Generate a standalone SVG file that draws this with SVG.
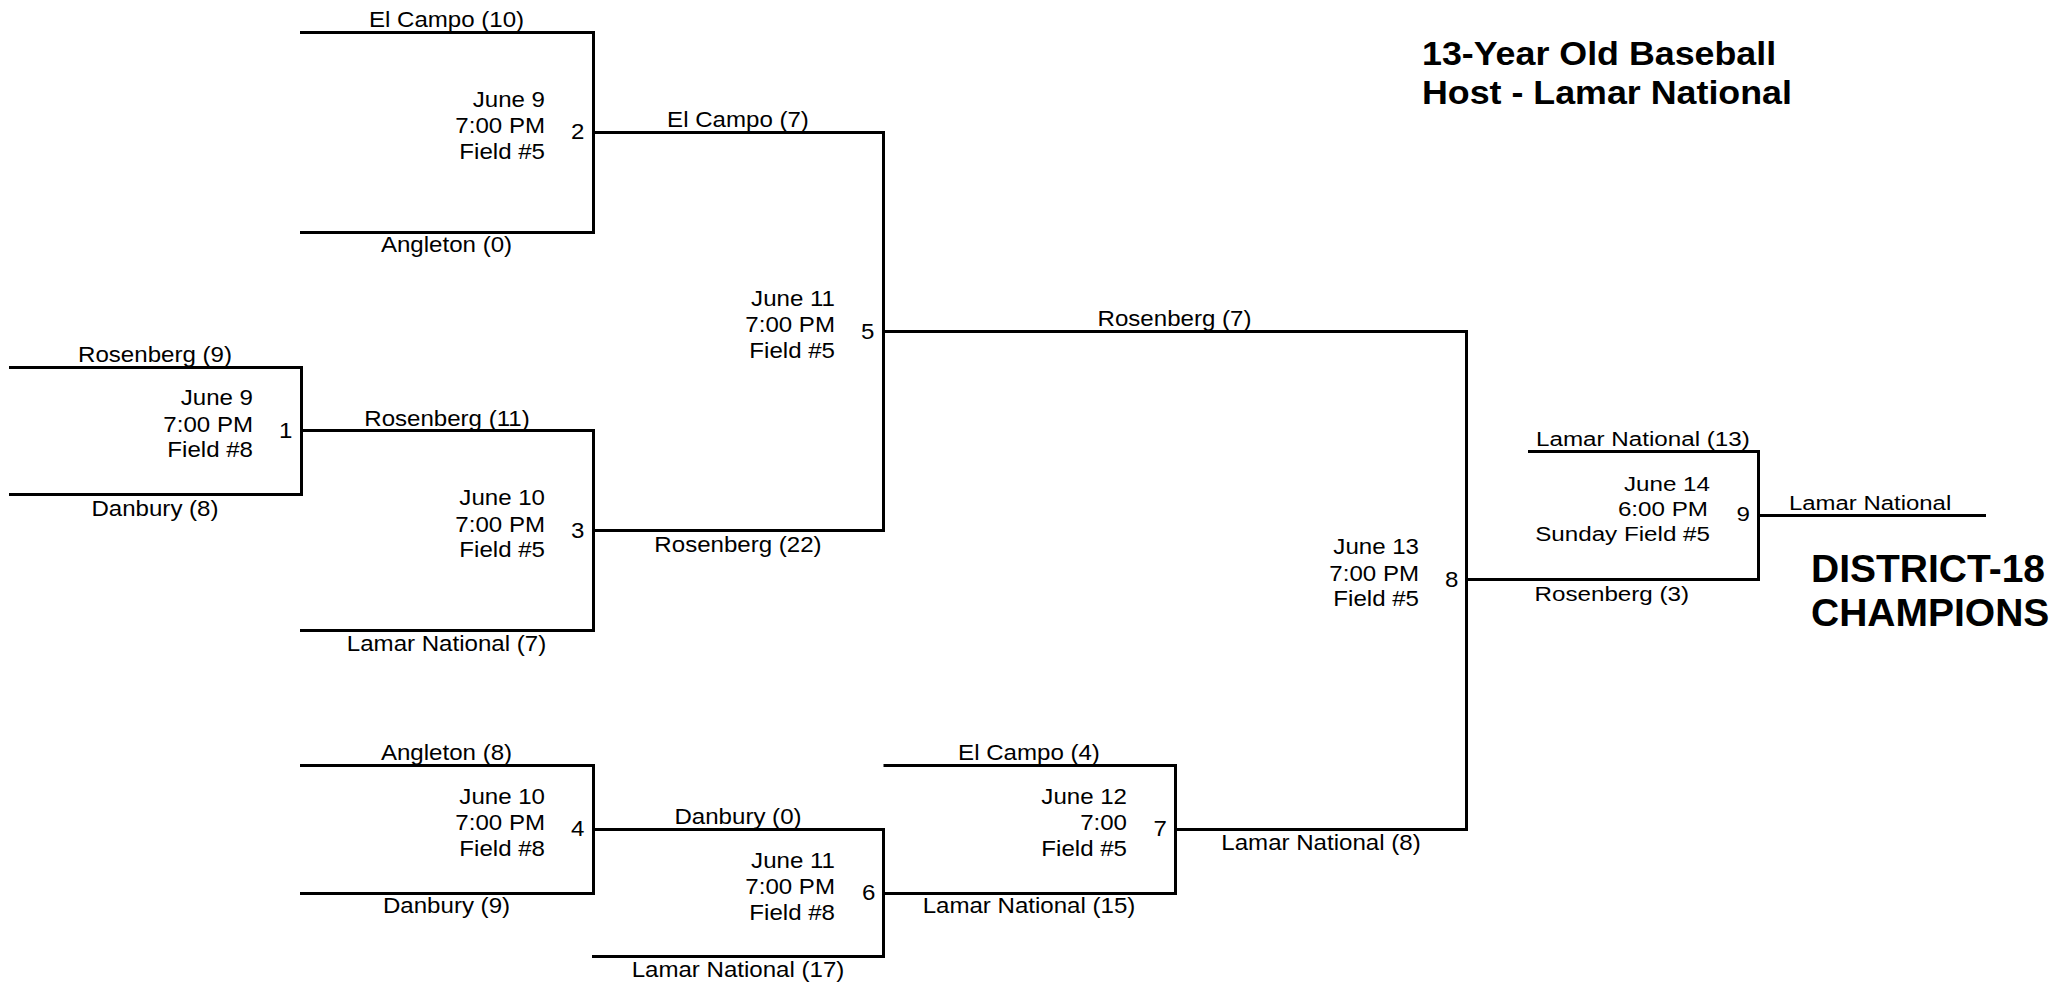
<svg xmlns="http://www.w3.org/2000/svg" width="2058" height="986" viewBox="0 0 2058 986">
<style>
text { font-family: "Liberation Sans", Arial, sans-serif; fill: #000; }
.lbl { font-size: 22px; text-anchor: middle; transform-box: fill-box; transform-origin: 50% 50%; transform: scaleX(1.095); }
.dt { font-size: 22px; text-anchor: end; transform-box: fill-box; transform-origin: 100% 50%; transform: scaleX(1.095); }
.g9s { font-size: 20px; text-anchor: start; transform-box: fill-box; transform-origin: 0% 50%; transform: scaleX(1.21); }
.g9e { font-size: 20px; text-anchor: end; transform-box: fill-box; transform-origin: 100% 50%; transform: scaleX(1.21); }
.win { font-size: 21px; text-anchor: start; transform-box: fill-box; transform-origin: 0% 50%; transform: scaleX(1.14); }
.title { font-size: 33px; font-weight: bold; transform-box: fill-box; transform-origin: 0% 50%; transform: scaleX(1.085); }
.champ { font-size: 39px; font-weight: bold; }
.ln { fill: none; stroke: #000; stroke-width: 3; stroke-linejoin: miter; stroke-linecap: butt; }
</style>
<rect width="2058" height="986" fill="#fff"/>
<g id="connectors">
  <path class="ln" d="M300,32.5 H593.5 V232.5 H300"/>
  <path class="ln" d="M9,367.5 H301.5 V494.5 H9"/>
  <path class="ln" d="M301.5,430.5 H593.5 V630.5 H300"/>
  <path class="ln" d="M300,765.5 H593.5 V893.5 H300"/>
  <path class="ln" d="M593.5,132.5 H883.5 V530.5 H593.5"/>
  <path class="ln" d="M593.5,829.5 H883.5 V956.5 H592"/>
  <path class="ln" d="M883.5,765.5 H1175.5 V893.5 H883.5"/>
  <path class="ln" d="M883.5,331.5 H1466.5 V829.5 H1175.5"/>
  <path class="ln" d="M1528,451.5 H1758.5 V579.5 H1466.5"/>
  <path class="ln" d="M1758.5,515.5 H1986"/>
</g>
<g id="title">
  <text class="title" x="1422" y="65">13-Year Old Baseball</text>
  <text class="title" x="1422" y="104">Host - Lamar National</text>
</g>
<g id="game1">
  <text class="lbl" x="155" y="362.5">Rosenberg (9)</text>
  <text class="lbl" x="155" y="516">Danbury (8)</text>
  <text class="dt" x="253" y="405.5">June 9</text>
  <text class="dt" x="253" y="432">7:00 PM</text>
  <text class="dt" x="253" y="457.5">Field #8</text>
  <text class="dt" x="292.5" y="438">1</text>
</g>
<g id="game2">
  <text class="lbl" x="446.5" y="27.5">El Campo (10)</text>
  <text class="lbl" x="446.5" y="252.5">Angleton (0)</text>
  <text class="dt" x="545" y="107">June 9</text>
  <text class="dt" x="545" y="133.5">7:00 PM</text>
  <text class="dt" x="545" y="159">Field #5</text>
  <text class="dt" x="584.5" y="139.5">2</text>
</g>
<g id="game3">
  <text class="lbl" x="447" y="426">Rosenberg (11)</text>
  <text class="lbl" x="446.5" y="651.5">Lamar National (7)</text>
  <text class="dt" x="545" y="505.5">June 10</text>
  <text class="dt" x="545" y="532">7:00 PM</text>
  <text class="dt" x="545" y="557.5">Field #5</text>
  <text class="dt" x="584.5" y="538">3</text>
</g>
<g id="game4">
  <text class="lbl" x="446.5" y="760.5">Angleton (8)</text>
  <text class="lbl" x="446.5" y="913.5">Danbury (9)</text>
  <text class="dt" x="545" y="804">June 10</text>
  <text class="dt" x="545" y="830.5">7:00 PM</text>
  <text class="dt" x="545" y="856">Field #8</text>
  <text class="dt" x="584.5" y="836.5">4</text>
</g>
<g id="game5">
  <text class="lbl" x="738" y="127">El Campo (7)</text>
  <text class="lbl" x="738" y="552">Rosenberg (22)</text>
  <text class="dt" x="835" y="306.5">June 11</text>
  <text class="dt" x="835" y="332.5">7:00 PM</text>
  <text class="dt" x="835" y="358.5">Field #5</text>
  <text class="dt" x="874.5" y="339">5</text>
</g>
<g id="game6">
  <text class="lbl" x="738" y="824.5">Danbury (0)</text>
  <text class="lbl" x="738" y="977.5">Lamar National (17)</text>
  <text class="dt" x="835" y="868">June 11</text>
  <text class="dt" x="835" y="894.5">7:00 PM</text>
  <text class="dt" x="835" y="920">Field #8</text>
  <text class="dt" x="875.5" y="900.5">6</text>
</g>
<g id="game7">
  <text class="lbl" x="1029" y="760.5">El Campo (4)</text>
  <text class="lbl" x="1029" y="913.5">Lamar National (15)</text>
  <text class="dt" x="1127" y="804">June 12</text>
  <text class="dt" x="1127" y="830.5">7:00</text>
  <text class="dt" x="1127" y="856">Field #5</text>
  <text class="dt" x="1167" y="836.5">7</text>
</g>
<g id="game8">
  <text class="lbl" x="1174.5" y="326.5">Rosenberg (7)</text>
  <text class="lbl" x="1321" y="850">Lamar National (8)</text>
  <text class="dt" x="1419" y="554.5">June 13</text>
  <text class="dt" x="1419" y="581">7:00 PM</text>
  <text class="dt" x="1419" y="606.5">Field #5</text>
  <text class="dt" x="1458.5" y="587">8</text>
</g>
<g id="game9">
  <text class="g9s" x="1536" y="446.5">Lamar National (13)</text>
  <text class="g9s" x="1534.5" y="601">Rosenberg (3)</text>
  <text class="g9e" x="1710" y="491">June 14</text>
  <text class="g9e" x="1708" y="516.5">6:00 PM</text>
  <text class="g9e" x="1710" y="541.5">Sunday Field #5</text>
  <text class="g9e" x="1750" y="521.5">9</text>
</g>
<g id="champion">
  <text class="win" x="1789" y="510.5">Lamar National</text>
  <text class="champ" x="1811" y="582">DISTRICT-18</text>
  <text class="champ" x="1811" y="626">CHAMPIONS</text>
</g>
</svg>
